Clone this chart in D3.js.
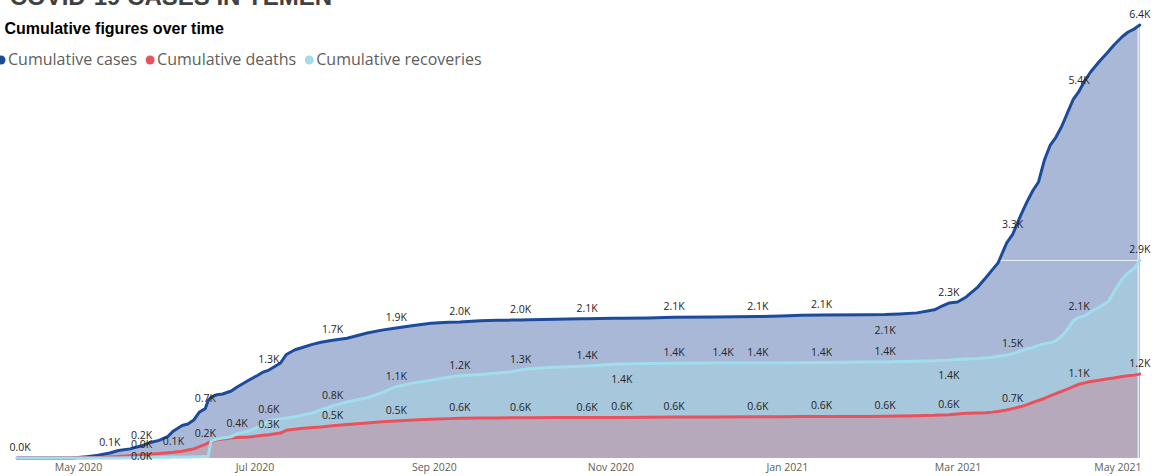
<!DOCTYPE html>
<html>
<head>
<meta charset="utf-8">
<script src="https://cdn.jsdelivr.net/npm/d3@7"></script>
<style>
  body { margin: 0; background: #fff; }
  svg { display: block; font-family: "Open Sans", sans-serif; }
</style>
</head>
<body>
<svg id="chart" width="1157" height="476"></svg>
<script>
// daily-ish samples
const dates = [
  "2020-04-10","2020-04-21","2020-04-29",
  "2020-05-01","2020-05-04","2020-05-08","2020-05-12","2020-05-15","2020-05-19","2020-05-23","2020-05-26","2020-05-29",
  "2020-06-01","2020-06-03","2020-06-06","2020-06-08","2020-06-10","2020-06-12","2020-06-14","2020-06-15","2020-06-16","2020-06-18","2020-06-20","2020-06-23","2020-06-25","2020-06-29",
  "2020-07-02","2020-07-04","2020-07-06","2020-07-10","2020-07-12","2020-07-15","2020-07-17","2020-07-21","2020-07-24","2020-07-28",
  "2020-08-02","2020-08-09","2020-08-14","2020-08-19","2020-08-25","2020-08-31",
  "2020-09-06","2020-09-10","2020-09-17","2020-09-23","2020-09-28",
  "2020-10-01","2020-10-04","2020-10-13","2020-10-22","2020-10-24",
  "2020-11-02","2020-11-05","2020-11-14","2020-11-23",
  "2020-12-07","2020-12-22","2020-12-30",
  "2021-01-06","2021-01-13","2021-01-29",
  "2021-02-04","2021-02-09","2021-02-15","2021-02-21","2021-02-23","2021-02-26",
  "2021-03-01","2021-03-04","2021-03-08","2021-03-11","2021-03-13","2021-03-15","2021-03-18","2021-03-20","2021-03-23","2021-03-25","2021-03-27","2021-03-29","2021-03-31",
  "2021-04-02","2021-04-04","2021-04-06","2021-04-08","2021-04-10","2021-04-12","2021-04-14","2021-04-16","2021-04-19","2021-04-22","2021-04-24","2021-04-27","2021-04-29",
  "2021-05-01","2021-05-03"
];

const cases = [
  1, 1, 1,
  6, 19, 40, 74, 110, 135, 180, 230, 260,
  315, 400, 480, 503, 560, 680, 730, 850, 900, 935, 946, 990, 1050, 1150,
  1220, 1270, 1300, 1404, 1530, 1600, 1626, 1680, 1710, 1740,
  1770, 1847, 1890, 1920, 1960, 1990,
  2005, 2011, 2030, 2035, 2038,
  2041, 2045, 2050, 2058, 2060,
  2064, 2066, 2071, 2080,
  2085, 2090, 2100,
  2110, 2113, 2118,
  2120, 2130, 2145, 2190, 2232, 2290,
  2306, 2380, 2527, 2675, 2780, 2882, 3180, 3300, 3600, 3784, 3950, 4080, 4400,
  4620, 4740, 4900, 5100, 5300, 5420, 5580, 5705, 5860, 6001, 6100, 6230, 6297,
  6340, 6400
];

const deaths = [
  0, 0, 0,
  2, 3, 7, 15, 22, 32, 45, 55, 65,
  78, 85, 100, 118, 135, 167, 200, 225, 245, 268, 280, 295, 302, 312,
  325, 335, 345, 369, 410, 425, 435, 450, 458, 475,
  495, 517, 535, 547, 560, 572,
  582, 587, 590, 592, 594,
  595, 595, 597, 598, 598,
  600, 600, 602, 605,
  607, 608, 610,
  612, 614, 615,
  616, 620, 626, 632, 636, 640,
  652, 660, 665, 670, 678, 688, 710, 730, 760, 790, 820, 850, 880,
  918, 952, 985, 1018, 1055, 1090, 1110, 1130, 1150, 1170, 1182, 1205, 1215,
  1225, 1240
];

const recoveries = [
  0, 0, 0,
  1, 1, 1, 1, 1, 5, 8, 10, 11,
  12, 13, 14, 15, 18, 20, 21, 22, 250, 281, 295, 315, 360, 400,
  450, 500, 555, 575, 590, 610, 630, 665, 710, 770,
  828, 890, 965, 1055, 1110, 1150,
  1195, 1215, 1235, 1256, 1275,
  1300, 1320, 1340, 1355, 1360,
  1385, 1390, 1395, 1400,
  1404, 1405, 1406,
  1408, 1410, 1418,
  1420, 1425, 1430, 1436, 1440, 1445,
  1455, 1462, 1470, 1480, 1490, 1505, 1520, 1540, 1585, 1615, 1630, 1665, 1690,
  1705, 1730, 1800, 1900, 2030, 2080, 2100, 2160, 2230, 2306, 2450, 2650, 2740,
  2800, 2920
];

const tickDates = ["2020-05-01", "2020-07-01", "2020-09-01", "2020-11-01", "2021-01-01", "2021-03-01", "2021-05-01"];

const caseLabelDates = ["2020-04-11","2020-05-12","2020-05-23","2020-06-14","2020-07-06","2020-07-28","2020-08-19","2020-09-10","2020-10-01","2020-10-24","2020-11-23","2020-12-22","2021-01-13","2021-02-04","2021-02-26","2021-03-20","2021-04-12","2021-05-03"];
const deathLabelDates = ["2020-05-23","2020-06-03","2020-06-14","2020-07-06","2020-07-28","2020-08-19","2020-09-10","2020-10-01","2020-10-24","2020-11-05","2020-11-23","2020-12-22","2021-01-13","2021-02-04","2021-02-26","2021-03-20","2021-04-12","2021-05-03"];
const recoveryLabelDates = ["2020-05-23","2020-06-25","2020-07-06","2020-07-28","2020-08-19","2020-09-10","2020-10-01","2020-10-24","2020-11-05","2020-11-23","2020-12-10","2020-12-22","2021-01-13","2021-02-04","2021-02-26","2021-03-20","2021-04-12","2021-05-03"];
// labels that Power BI pushed under the line
const caseBelow = ["2021-02-04"];
const deathBelow = [];
const recoveryBelow = ["2020-05-23","2020-11-05","2021-02-26"];

const title = "COVID-19 CASES IN YEMEN";
const subtitle = "Cumulative figures over time";
const seriesNames = ["Cumulative cases", "Cumulative deaths", "Cumulative recoveries"];

const parse = d3.utcParse("%Y-%m-%d");
const days = dates.map(parse);

const svg = d3.select("#chart");

const x = d3.scaleUtc().domain([parse("2020-05-01"), parse("2021-05-01")]).range([78, 1134]);
const y = d3.scaleLinear().domain([0, 6400]).range([458, 25]);

const series = [
  { name: seriesNames[0], values: cases, fill: "#a9b8d6", stroke: "#1c4b9b", dot: "#1c4b9b", labels: caseLabelDates, below: caseBelow },
  { name: seriesNames[1], values: deaths, fill: "#b5a9bb", stroke: "#e9525d", dot: "#e9525d", labels: deathLabelDates, below: deathBelow },
  { name: seriesNames[2], values: recoveries, fill: "#a7c7dc", stroke: "#a0deee", dot: "#a6dcea", labels: recoveryLabelDates, below: recoveryBelow }
];

function valueAt(values, date) {
  const i = d3.bisector((d) => d).left(days, date);
  if (i <= 0) return values[0];
  if (i >= days.length) return values[values.length - 1];
  if (+days[i] === +date) return values[i];
  const t = (date - days[i - 1]) / (days[i] - days[i - 1]);
  return values[i - 1] + (values[i] - values[i - 1]) * t;
}

// areas: cases, recoveries, deaths
const area = (vals) =>
  d3.area()
    .x((d, i) => x(days[i]))
    .y0(y(0))
    .y1((d) => y(d))(vals);

[series[0], series[2], series[1]].forEach((s) => {
  svg.append("path").attr("d", area(s.values)).attr("fill", s.fill);
});

// thin light edges at the right end
const last = days.length - 1;
const lastRec = recoveries[last];
const cross = cases.findIndex((v) => v >= lastRec);
const crossDate = new Date(+days[cross - 1] + (days[cross] - days[cross - 1]) * (lastRec - cases[cross - 1]) / (cases[cross] - cases[cross - 1]));
svg.append("line")
  .attr("x1", x(crossDate)).attr("x2", x(days[last]))
  .attr("y1", y(lastRec)).attr("y2", y(lastRec))
  .attr("stroke", "#eef2f8").attr("stroke-width", 1);
svg.append("line")
  .attr("x1", x(days[last]) - 1.5).attr("x2", x(days[last]) - 1.5)
  .attr("y1", y(cases[last])).attr("y2", y(0))
  .attr("stroke", "#e3e9f2").attr("stroke-width", 1.5);

// lines: cases, deaths, recoveries on top
const line = d3.line()
  .x((d, i) => x(days[i]))
  .y((d) => y(d));

series.forEach((s) => {
  svg.append("path")
    .attr("d", line(s.values))
    .attr("fill", "none")
    .attr("stroke", s.stroke)
    .attr("stroke-width", 3)
    .attr("stroke-linejoin", "round")
    .attr("stroke-linecap", "round");
});

// x axis
const xAxis = svg.append("g")
  .attr("transform", `translate(0,${y(0)})`)
  .call(d3.axisBottom(x).tickValues(tickDates.map(parse)).tickFormat(d3.utcFormat("%b %Y")).tickSize(0).tickPadding(6));
xAxis.select(".domain").remove();
xAxis.attr("font-family", null).attr("font-size", null);
xAxis.selectAll("text")
  .attr("fill", "#605e5c")
  .style("font-size", "10.5px")
  .each(function (d) {
    const w = this.getComputedTextLength();
    const over = x(d) + w / 2 - 1141;
    if (over > 0) d3.select(this).attr("x", -over);
  });

// data labels
const fmt = (v) => (v / 1000).toFixed(1) + "K";
series.forEach((s) => {
  s.labels.forEach((ds) => {
    const dt = parse(ds);
    const v = valueAt(s.values, dt);
    const below = s.below.includes(ds);
    const ly = below ? Math.min(y(v) + 19, y(0) + 2) : y(v) - 7;
    svg.append("text")
      .attr("x", Math.min(x(dt), 1146))
      .attr("y", ly)
      .attr("text-anchor", "middle")
      .attr("fill", "#252423")
      .style("font-size", "10.5px")
      .text(fmt(v));
  });
});

// titles
svg.append("text")
  .attr("x", 332).attr("y", 5)
  .attr("text-anchor", "end")
  .attr("fill", "#404040")
  .style("font-family", "'Liberation Sans', Arial, sans-serif")
  .style("font-weight", "bold")
  .style("font-size", "24px")
  .text(title);

svg.append("text")
  .attr("x", 224).attr("y", 34)
  .attr("text-anchor", "end")
  .attr("fill", "#000")
  .style("font-family", "'Liberation Sans', Arial, sans-serif")
  .style("font-weight", "bold")
  .style("font-size", "16px")
  .text(subtitle);

// legend
const legend = svg.append("g");
let lx = 1;
series.forEach((s) => {
  legend.append("circle").attr("cx", lx).attr("cy", 60).attr("r", 4.5).attr("fill", s.dot);
  const t = legend.append("text")
    .attr("x", lx + 7).attr("y", 65)
    .attr("fill", "#605e5c")
    .style("font-size", "16px")
    .text(s.name);
  lx = lx + 7 + t.node().getComputedTextLength() + 13;
});
</script>
</body>
</html>
